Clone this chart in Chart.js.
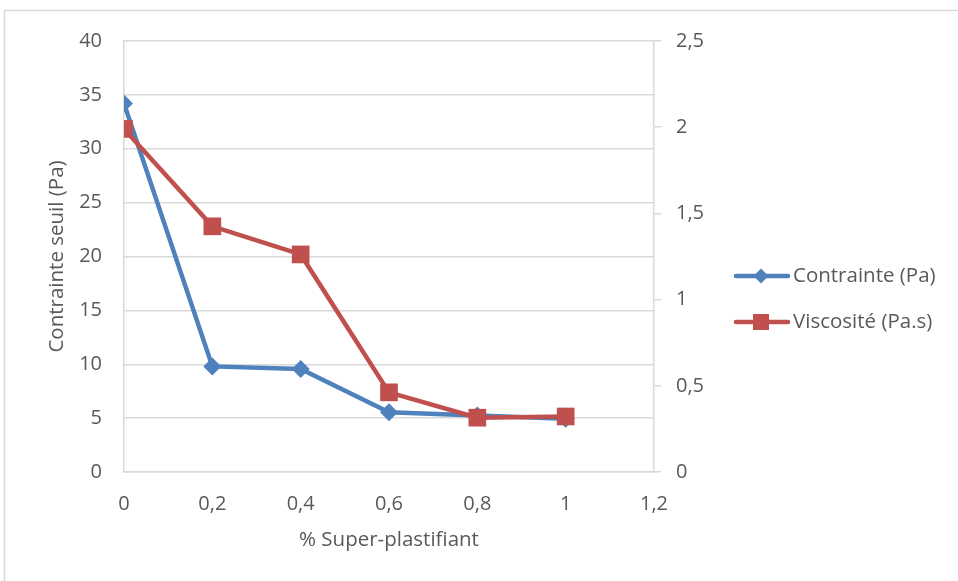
<!DOCTYPE html>
<html>
<head>
<meta charset="utf-8">
<script src="https://cdn.jsdelivr.net/npm/chart.js@4.4.1/dist/chart.umd.min.js"></script>
<style>
  html, body { margin: 0; padding: 0; background: #fff; }
  #wrap { position: relative; width: 958px; height: 581px; }
</style>
</head>
<body>
<div id="wrap"><canvas id="c" width="958" height="581"></canvas></div>
<script>
// % super-plastifiant dosage
const dosages = [0, 0.2, 0.4, 0.6, 0.8, 1];
// Yield stress (Pa), left axis
const contrainte = [34.2, 9.8, 9.55, 5.55, 5.25, 4.95];
// Viscosity (Pa.s), right axis
const viscosite = [1.99, 1.425, 1.262, 0.462, 0.315, 0.322];

const seriesNames = ['Contrainte (Pa)', 'Viscosité (Pa.s)'];
const xTitle = '% Super-plastifiant';
const yLeftTitle = 'Contrainte seuil (Pa)';

const BLUE = '#4F81BD';
const RED = '#C0504D';
const GRID = '#D9D9D9';
const TEXT = '#595959';
const FONT = "'Open Sans', sans-serif";
const FS_TICK = 20;
const FS_TEXT = 20.5;

const fmt = v => String(Number(Number(v).toFixed(2))).replace('.', ',');

const toPoints = (xs, ys) => xs.map((x, i) => ({ x: x, y: ys[i] }));

// Outer chart frame
const framePlugin = {
  id: 'frame',
  beforeDraw(chart) {
    const ctx = chart.ctx;
    ctx.save();
    ctx.strokeStyle = GRID;
    ctx.lineWidth = 1.5;
    ctx.strokeRect(4.5, 10.5, 2000, 2000);
    ctx.restore();
  }
};

// Legend with line + marker samples
const legendPlugin = {
  id: 'lineLegend',
  afterDraw(chart) {
    const ctx = chart.ctx;
    const items = [
      { label: seriesNames[0], color: BLUE, shape: 'diamond', y: 276 },
      { label: seriesNames[1], color: RED, shape: 'square', y: 322 }
    ];
    ctx.save();
    items.forEach(it => {
      ctx.strokeStyle = it.color;
      ctx.lineWidth = 4.5;
      ctx.lineCap = 'round';
      ctx.beginPath();
      ctx.moveTo(736, it.y);
      ctx.lineTo(788, it.y);
      ctx.stroke();
      ctx.fillStyle = it.color;
      ctx.beginPath();
      if (it.shape === 'diamond') {
        const r = 7.5;
        ctx.moveTo(761, it.y - r);
        ctx.lineTo(761 + r, it.y);
        ctx.lineTo(761, it.y + r);
        ctx.lineTo(761 - r, it.y);
        ctx.closePath();
      } else {
        ctx.rect(761 - 8, it.y - 8, 16, 16);
      }
      ctx.fill();
      ctx.fillStyle = TEXT;
      ctx.font = FS_TEXT + 'px ' + FONT;
      ctx.textAlign = 'left';
      ctx.textBaseline = 'middle';
      ctx.fillText(it.label, 793, it.y);
    });
    ctx.restore();
  }
};

new Chart(document.getElementById('c'), {
  type: 'line',
  data: {
    datasets: [
      {
        label: seriesNames[0],
        data: toPoints(dosages, contrainte),
        yAxisID: 'y',
        borderColor: BLUE,
        backgroundColor: BLUE,
        borderWidth: 4.5,
        pointStyle: 'rectRot',
        pointRadius: 9,
        pointBorderWidth: 0,
        tension: 0,
        order: 2
      },
      {
        label: seriesNames[1],
        data: toPoints(dosages, viscosite),
        yAxisID: 'y1',
        borderColor: RED,
        backgroundColor: RED,
        borderWidth: 4.5,
        pointStyle: 'rect',
        pointRadius: 12.5,
        pointBorderWidth: 0,
        tension: 0,
        order: 1
      }
    ]
  },
  options: {
    responsive: false,
    animation: false,
    layout: { padding: { top: 41, left: 0, right: 0, bottom: 0 } },
    plugins: {
      legend: { display: false },
      tooltip: { enabled: false }
    },
    scales: {
      x: {
        type: 'linear',
        min: 0,
        max: 1.2,
        afterFit(s) { s.height = 109; },
        grid: { display: false },
        border: { display: true, color: GRID, width: 1.5 },
        ticks: {
          stepSize: 0.2,
          padding: 12,
          color: TEXT,
          font: { family: FONT, size: FS_TICK },
          maxRotation: 0,
          callback: v => fmt(v)
        },
        title: {
          display: true,
          text: xTitle,
          color: TEXT,
          font: { family: FONT, size: FS_TEXT },
          padding: { top: 0, bottom: 29 }
        }
      },
      y: {
        position: 'left',
        min: 0,
        max: 40,
        afterFit(s) { s.width = 124; },
        grid: { color: GRID, lineWidth: 1.5, drawTicks: false },
        border: { display: true, color: GRID, width: 1.5 },
        ticks: {
          stepSize: 5,
          padding: 22,
          color: TEXT,
          font: { family: FONT, size: FS_TICK },
          callback: v => fmt(v)
        },
        title: {
          display: true,
          text: yLeftTitle,
          color: TEXT,
          font: { family: FONT, size: FS_TEXT },
          padding: { top: 45, bottom: 0 }
        }
      },
      y1: {
        position: 'right',
        min: 0,
        max: 2.5,
        afterFit(s) { s.width = 304; },
        grid: { drawOnChartArea: false, color: GRID, lineWidth: 1.5, tickLength: 7 },
        border: { display: true, color: GRID, width: 1.5 },
        ticks: {
          stepSize: 0.5,
          padding: 15,
          color: TEXT,
          font: { family: FONT, size: FS_TICK },
          callback: v => fmt(v)
        }
      }
    }
  },
  plugins: [framePlugin, legendPlugin]
});
</script>
</body>
</html>
